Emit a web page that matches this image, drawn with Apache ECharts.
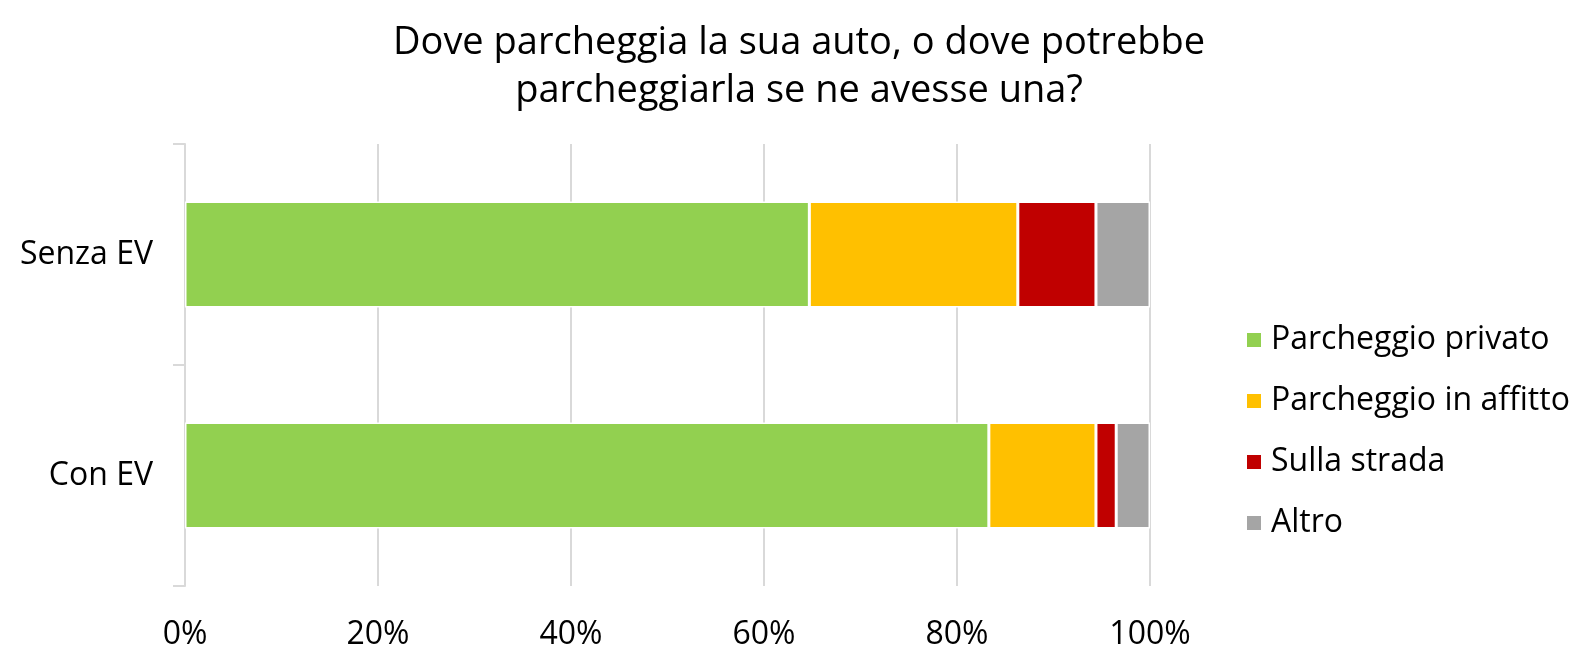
<!DOCTYPE html>
<html>
<head>
<meta charset="utf-8">
<script src="https://cdn.jsdelivr.net/npm/echarts@6/dist/echarts.min.js"></script>
<style>
  html, body { margin: 0; padding: 0; background: #fff; }
  #main { width: 1596px; height: 650px; }
</style>
</head>
<body>
<div id="main"></div>
<script>
var chartDom = document.getElementById('main');

// categories (top to bottom as drawn)
var categories = ['Con EV', 'Senza EV'];
var seriesNames = ['Parcheggio privato', 'Parcheggio in affitto', 'Sulla strada', 'Altro'];
var privato = [83.3, 64.7];
var affitto = [11.1, 21.6];
var strada = [2.1, 8.1];
var altro = [3.5, 5.6];
var colors = ['#92d050', '#ffc000', '#c00000', '#a5a5a5'];
var xTicks = [0, 20, 40, 60, 80, 100];

var fontFam = '"Open Sans", "Noto Sans", sans-serif';

var mkSeries = (name, data, color) => {
    return {
        name: name,
        type: 'bar',
        stack: 'all',
        data: data,
        barCategoryGap: '52%',
        itemStyle: { color: color, borderColor: '#fff', borderWidth: 1.5 }
    };
}

var chart = echarts.init(chartDom);
var option = {
    animation: false,
    textStyle: { fontFamily: fontFam },
    title: {
        text: 'Dove parcheggia la sua auto, o dove potrebbe\nparcheggiarla se ne avesse una?',
        left: 794,
        textAlign: 'center',
        top: 14,
        textStyle: { fontSize: 38, fontWeight: 'normal', color: '#000', lineHeight: 48, fontFamily: fontFam }
    },
    legend: {
        orient: 'vertical',
        left: 1240,
        top: 318,
        icon: 'rect',
        itemWidth: 16,
        itemHeight: 16,
        itemGap: 27,
        data: seriesNames,
        textStyle: { fontSize: 32, lineHeight: 34, color: '#000', fontFamily: fontFam, padding: [0, 0, 0, 4] }
    },
    grid: { left: 185, right: 446, top: 144, bottom: 64, containLabel: false, outerBoundsMode: 'none' },
    xAxis: {
        type: 'value',
        min: 0,
        max: 100,
        interval: 20,
        axisLine: { show: false },
        axisTick: { show: false },
        splitLine: { lineStyle: { color: '#d9d9d9', width: 2 } },
        axisLabel: {
            margin: 33,
            fontSize: 32,
            color: '#000',
            formatter: v => xTicks.indexOf(v) >= 0 ? v + '%' : ''
        }
    },
    yAxis: {
        type: 'category',
        data: categories,
        axisLine: { show: true, lineStyle: { color: '#d9d9d9', width: 2 } },
        axisTick: { show: true, length: 12, lineStyle: { color: '#d9d9d9', width: 2 } },
        axisLabel: { fontSize: 32, color: '#000', margin: 32 }
    },
    series: [
        mkSeries(seriesNames[0], privato, colors[0]),
        mkSeries(seriesNames[1], affitto, colors[1]),
        mkSeries(seriesNames[2], strada, colors[2]),
        mkSeries(seriesNames[3], altro, colors[3])
    ]
};
chart.setOption(option);
</script>
</body>
</html>
